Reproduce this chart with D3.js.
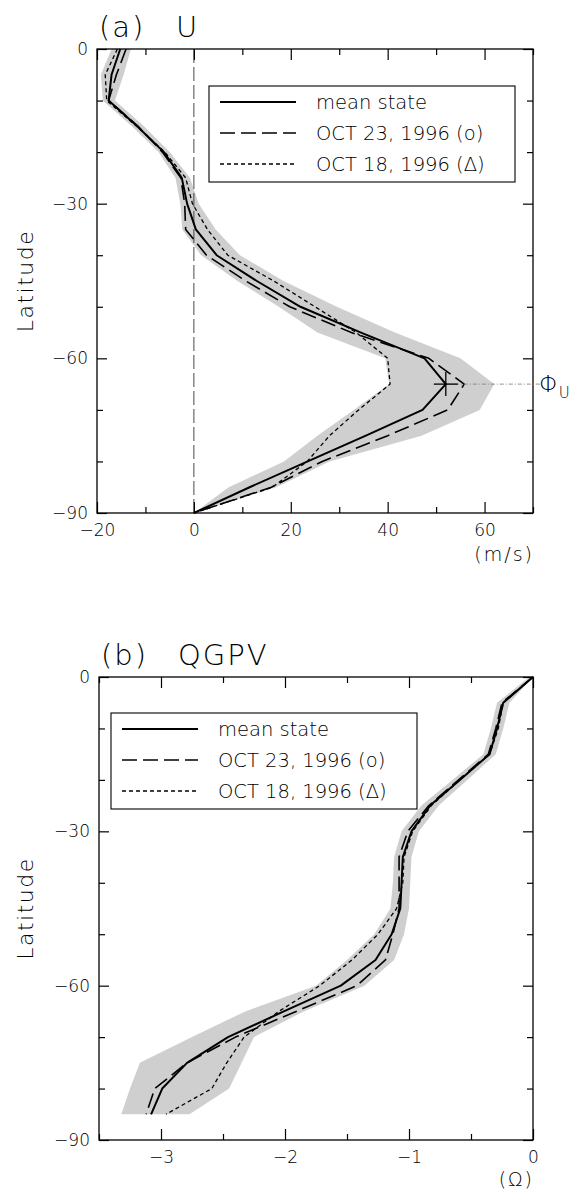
<!DOCTYPE html>
<html>
<head>
<meta charset="utf-8">
<script src="https://cdn.jsdelivr.net/npm/d3@7"></script>
<style>
  body { margin: 0; background: #fff; }
  text { font-family: "DejaVu Sans", sans-serif; font-weight: 200; fill: #000; }
</style>
</head>
<body>
<svg id="chart" width="575" height="1192"></svg>
<script>
// ---------- (a) zonal wind U ----------
const latA = [0, -5, -10, -15, -20, -25, -30, -35, -40, -45, -50, -55, -60, -65, -70, -75, -80, -85, -90];
const uMean  = [-15.2, -17.0, -17.6, -11.7, -6.2, -2.5, -1.4, 0.4, 4.7, 13.0, 22.0, 34.5, 47.6, 52.0, 47.2, 35.5, 23.5, 11.5, 0];
const uOct23 = [-14.0, -16.0, -17.6, -11.5, -6.5, -2.7, -1.9, -1.7, 2.6, 10.7, 19.8, 32.5, 48.5, 55.8, 52.4, 40.0, 26.5, 16.0, 0];
const uOct18 = [-15.8, -18.3, -18.0, -11.8, -6.0, -1.7, -0.3, 2.8, 7.0, 16.5, 25.0, 33.5, 40.0, 40.5, 34.0, 28.0, 23.4, 16.2, 0];
const uLow   = [-17.0, -19.2, -18.8, -12.8, -7.3, -3.8, -2.8, -2.4, 1.5, 9.0, 17.5, 25.5, 39.5, 40.3, 33.0, 25.5, 18.6, 7.2, 0];
const uHigh  = [-13.0, -14.5, -16.3, -10.3, -5.0, -0.8, 1.0, 4.5, 9.5, 18.5, 29.5, 41.5, 55.0, 62.0, 59.0, 47.0, 28.0, 17.0, 0];
const uTicksMajor = [-20, 0, 20, 40, 60];
const uTicksMinor = [-10, 10, 30, 50, 70];

// ---------- (b) QGPV ----------
const latB = [0, -5, -10, -15, -20, -25, -30, -35, -40, -45, -50, -55, -60, -65, -70, -75, -80, -85];
const qMean  = [0, -0.24, -0.29, -0.35, -0.59, -0.83, -0.98, -1.05, -1.06, -1.07, -1.14, -1.27, -1.55, -2.01, -2.46, -2.79, -2.99, -3.08];
const qOct23 = [0, -0.25, -0.30, -0.36, -0.60, -0.84, -1.01, -1.08, -1.08, -1.08, -1.13, -1.19, -1.42, -1.91, -2.40, -2.79, -3.05, -3.12];
const qOct18 = [0, -0.24, -0.28, -0.35, -0.59, -0.82, -0.97, -1.04, -1.05, -1.10, -1.25, -1.46, -1.72, -2.05, -2.33, -2.47, -2.59, -2.96];
const qLow   = [-0.03, -0.29, -0.34, -0.40, -0.65, -0.90, -1.06, -1.12, -1.13, -1.15, -1.28, -1.50, -1.75, -2.32, -2.75, -3.17, -3.25, -3.32];
const qHigh  = [0, -0.19, -0.24, -0.30, -0.53, -0.76, -0.92, -0.98, -0.99, -1.00, -1.04, -1.12, -1.36, -1.85, -2.25, -2.35, -2.45, -2.77];
const qTicksMajor = [-3, -2, -1, 0];
const qTicksMinor = [-3.5, -2.5, -1.5, -0.5];

const latTicksMajor = [0, -30, -60, -90];
const latTicksMinor = [-10, -20, -40, -50, -70, -80];

const legendLabels = ["mean state", "OCT 23, 1996 (o)", "OCT 18, 1996 (\u0394)"];
const seriesStyles = [
  { width: 2.0, dash: null },
  { width: 1.6, dash: "15,6" },
  { width: 1.3, dash: "4,3" }
];

const svg = d3.select("#chart");
const fmt = v => (v < 0 ? "\u2212" + Math.abs(v) : String(v));

function drawPanel(cfg) {
  const x = d3.scaleLinear().domain(cfg.xDomain).range(cfg.xRange);
  const y = d3.scaleLinear().domain([0, -90]).range(cfg.yRange);
  const g = svg.append("g");
  const [x0, x1] = cfg.xRange, [y0, y1] = cfg.yRange;

  // spread band
  const band = d3.area()
    .y(d => y(d.lat)).x0(d => x(d.lo)).x1(d => x(d.hi));
  g.append("path")
    .datum(cfg.lat.map((l, i) => ({ lat: l, lo: cfg.low[i], hi: cfg.high[i] })))
    .attr("d", band).attr("fill", "#cfcfcf");

  if (cfg.extra) cfg.extra(g, x, y);

  // profiles
  const line = d3.line().x(d => x(d[1])).y(d => y(d[0]));
  cfg.series.forEach((vals, k) => {
    g.append("path")
      .datum(cfg.lat.map((l, i) => [l, vals[i]]))
      .attr("d", line).attr("fill", "none").attr("stroke", "#000")
      .attr("stroke-width", seriesStyles[k].width)
      .attr("stroke-dasharray", seriesStyles[k].dash)
      .attr("stroke-linejoin", "round");
  });

  // axes: inward ticks on all four sides
  const addAxis = (axis, tr) => {
    const a = g.append("g").attr("transform", tr).call(axis);
    a.select(".domain").remove();
    a.selectAll("line").attr("stroke", "#000").attr("stroke-width", 1.2);
    a.selectAll("text").style("font-size", "17px").attr("fill", "#000");
    return a;
  };
  addAxis(d3.axisLeft(y).tickValues(latTicksMajor).tickSize(-10).tickPadding(9).tickFormat(fmt), `translate(${x0},0)`);
  addAxis(d3.axisLeft(y).tickValues(latTicksMinor).tickSize(-6).tickFormat(""), `translate(${x0},0)`);
  addAxis(d3.axisRight(y).tickValues(latTicksMajor).tickSize(-10).tickFormat(""), `translate(${x1},0)`);
  addAxis(d3.axisRight(y).tickValues(latTicksMinor).tickSize(-6).tickFormat(""), `translate(${x1},0)`);
  addAxis(d3.axisBottom(x).tickValues(cfg.xMajor).tickSize(-11).tickPadding(11).tickFormat(fmt), `translate(0,${y1})`);
  addAxis(d3.axisBottom(x).tickValues(cfg.xMinor).tickSize(-6).tickFormat(""), `translate(0,${y1})`);
  addAxis(d3.axisTop(x).tickValues(cfg.xMajor).tickSize(-11).tickFormat(""), `translate(0,${y0})`);
  addAxis(d3.axisTop(x).tickValues(cfg.xMinor).tickSize(-6).tickFormat(""), `translate(0,${y0})`);

  g.append("rect").attr("x", x0).attr("y", y0).attr("width", x1 - x0).attr("height", y1 - y0)
    .attr("fill", "none").attr("stroke", "#000").attr("stroke-width", 1.3);

  // title
  const t = g.append("text").attr("x", x0 + 2).attr("y", y0 - 12)
    .style("font-size", "29px").style("letter-spacing", "2px");
  t.append("tspan").text(cfg.tag);
  t.append("tspan").attr("x", x0 + 79).style("letter-spacing", "2px").text(cfg.title);

  // axis labels
  g.append("text")
    .attr("transform", `translate(33,${(y0 + y1) / 2}) rotate(-90)`)
    .attr("text-anchor", "middle").style("font-size", "22px").style("letter-spacing", "1.5px")
    .text("Latitude");
  g.append("text").attr("x", x1 + 1).attr("y", y1 + cfg.unitDy).attr("text-anchor", "end")
    .style("font-size", "19px").style("letter-spacing", "2px").text(cfg.unit);

  // legend
  const lg = g.append("g").attr("transform", `translate(${cfg.legend[0]},${cfg.legend[1]})`);
  lg.append("rect").attr("width", 306).attr("height", 96)
    .attr("fill", "#fff").attr("stroke", "#000").attr("stroke-width", 1.1);
  legendLabels.forEach((lab, k) => {
    const yy = 16 + k * 31;
    lg.append("line").attr("x1", 11).attr("x2", 87).attr("y1", yy).attr("y2", yy)
      .attr("stroke", "#000").attr("stroke-width", seriesStyles[k].width)
      .attr("stroke-dasharray", seriesStyles[k].dash);
    lg.append("text").attr("x", 107).attr("y", yy + 7).style("font-size", "19.5px").text(lab);
  });
}

drawPanel({
  lat: latA, series: [uMean, uOct23, uOct18], low: uLow, high: uHigh,
  xDomain: [-20, 70], xRange: [97, 533], yRange: [49, 513],
  xMajor: uTicksMajor, xMinor: uTicksMinor,
  tag: "(a)", title: "U", unit: "(m/s)", unitDy: 48, legend: [209, 86],
  extra: (g, x, y) => {
    // zero-wind line
    g.append("line").attr("x1", x(0)).attr("x2", x(0)).attr("y1", y(0)).attr("y2", y(-90))
      .attr("stroke", "#333").attr("stroke-width", 0.9).attr("stroke-dasharray", "14,4");
  }
});

// jet-core marker and its latitude label
(function () {
  const x = d3.scaleLinear().domain([-20, 70]).range([97, 533]);
  const y = d3.scaleLinear().domain([0, -90]).range([49, 513]);
  const k = d3.maxIndex(uMean);
  const px = x(uMean[k]), py = y(latA[k]);
  svg.append("line").attr("x1", px).attr("x2", 540).attr("y1", py).attr("y2", py)
    .attr("stroke", "#777").attr("stroke-width", 0.8).attr("stroke-dasharray", "4,2,1,2");
  svg.append("line").attr("x1", px - 12).attr("x2", px + 12).attr("y1", py).attr("y2", py)
    .attr("stroke", "#000").attr("stroke-width", 1.3);
  svg.append("line").attr("x1", px).attr("x2", px).attr("y1", py - 12).attr("y2", py + 12)
    .attr("stroke", "#000").attr("stroke-width", 1.3);
  const lab = svg.append("text").attr("x", 539).attr("y", py + 8).style("font-size", "23px");
  lab.append("tspan").text("\u03A6");
  lab.append("tspan").attr("dy", 6).style("font-size", "15px").text("U");
})();

drawPanel({
  lat: latB, series: [qMean, qOct23, qOct18], low: qLow, high: qHigh,
  xDomain: [-3.5, 0], xRange: [99, 533], yRange: [677, 1140],
  xMajor: qTicksMajor, xMinor: qTicksMinor,
  tag: "(b)", title: "QGPV", unit: "(\u03A9)", unitDy: 46, legend: [111, 713]
});
</script>
</body>
</html>
